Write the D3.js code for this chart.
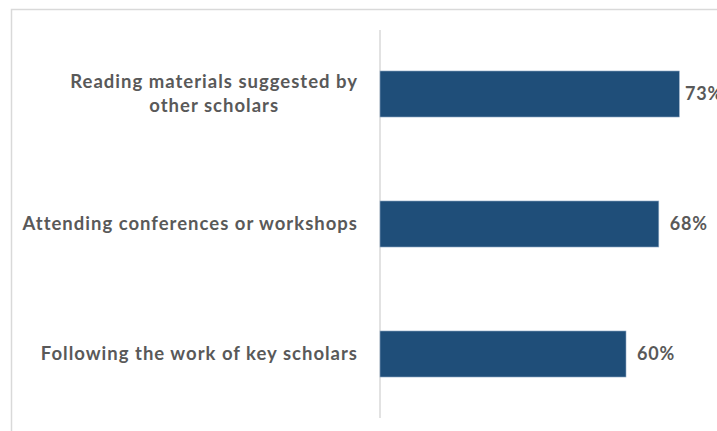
<!DOCTYPE html>
<html>
<head>
<meta charset="utf-8">
<script src="https://cdn.jsdelivr.net/npm/d3@7"></script>
<style>
  html, body { margin: 0; padding: 0; background: #fff; overflow: hidden; }
  svg { display: block; }
  text { font-family: Lato, "Open Sans", sans-serif; font-weight: bold; fill: #595959; }
</style>
</head>
<body>
<svg id="chart" width="717" height="431"></svg>
<script>
// Survey categories (top to bottom), with each label split into display lines
const categories = [
  "Reading materials suggested by other scholars",
  "Attending conferences or workshops",
  "Following the work of key scholars"
];
const labelLines = [
  ["Reading materials suggested by", "other scholars"],
  ["Attending conferences or workshops"],
  ["Following the work of key scholars"]
];
const shares = [0.73, 0.68, 0.60];
const valueLabels = ["73%", "68%", "60%"];

const svg = d3.select("#chart");

// Chart area frame (runs off the right and bottom edges)
svg.append("rect")
  .attr("x", 11.5).attr("y", 9.5)
  .attr("width", 760).attr("height", 460)
  .attr("fill", "none")
  .attr("stroke", "#d9d9d9")
  .attr("stroke-width", 1.5);

const x = d3.scaleLinear().domain([0, 1]).range([380, 790]);
const y = d3.scaleBand()
  .domain(categories)
  .range([29, 419])
  .paddingInner(0.646)
  .paddingOuter(0.323);

// Category axis line
svg.append("line")
  .attr("x1", x(0)).attr("x2", x(0))
  .attr("y1", 30).attr("y2", 418)
  .attr("stroke", "#d9d9d9")
  .attr("stroke-width", 1.5);

// Bars
svg.selectAll("rect.bar")
  .data(categories)
  .join("rect")
  .attr("class", "bar")
  .attr("x", x(0))
  .attr("y", d => y(d))
  .attr("width", (d, i) => x(shares[i]) - x(0))
  .attr("height", y.bandwidth())
  .attr("fill", "#1f4e79")
  .attr("stroke", "#8fa9c4")
  .attr("stroke-width", 0.6);

// Value labels, kept from running too far past the plot's right side
svg.selectAll("text.value")
  .data(categories)
  .join("text")
  .attr("class", "value")
  .attr("x", (d, i) => Math.min(x(shares[i]) + 11, 685))
  .attr("y", d => y(d) + y.bandwidth() / 2)
  .attr("dy", "0.35em")
  .attr("font-size", 18)
  .attr("letter-spacing", 0.8)
  .text((d, i) => valueLabels[i]);

// Category labels: right edge aligned near the axis, lines centered on each other
const labelRight = 358;
const lineHeight = 24;
categories.forEach((cat, i) => {
  const lines = labelLines[i];
  const g = svg.append("g");
  const texts = lines.map(l => g.append("text")
    .attr("font-size", 18.5)
    .attr("letter-spacing", 1)
    .text(l));
  const maxW = d3.max(texts, t => t.node().getComputedTextLength());
  const cx = labelRight - maxW / 2;
  const cy = y(cat) + y.bandwidth() / 2;
  const top = cy - (lines.length - 1) * lineHeight / 2;
  texts.forEach((t, k) => {
    t.attr("x", cx)
     .attr("y", top + k * lineHeight)
     .attr("dy", "0.35em")
     .attr("text-anchor", "middle");
  });
});
</script>
</body>
</html>
